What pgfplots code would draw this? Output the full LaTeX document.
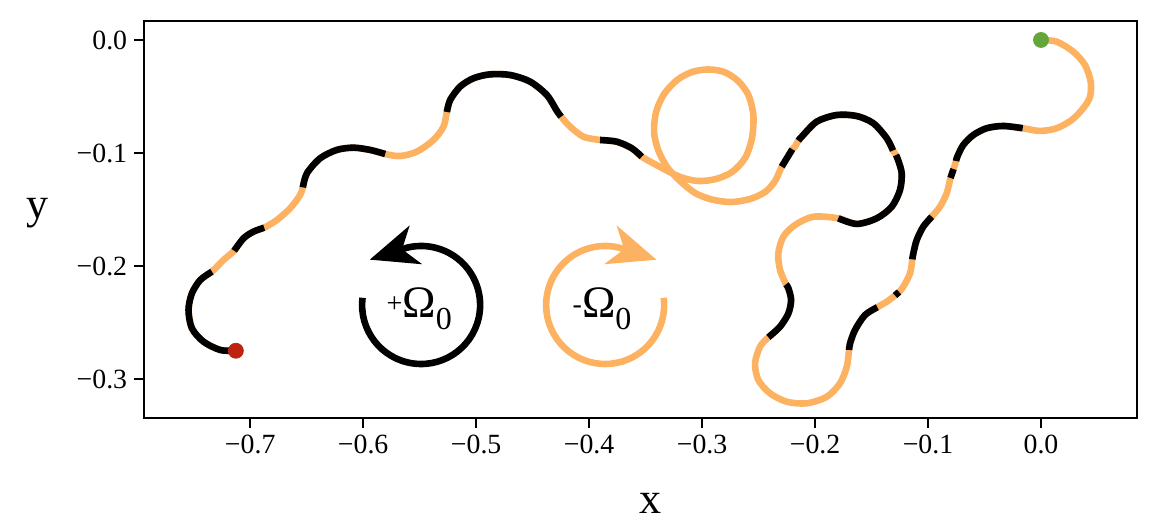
\documentclass[border=0pt]{standalone}
\usepackage{fontspec}
\setmainfont{Liberation Serif}
\usepackage{pgfplots}
\pgfplotsset{compat=1.18}
\usetikzlibrary{arrows.meta}
\definecolor{oc}{RGB}{253,178,98}
\definecolor{gdot}{RGB}{100,166,58}
\definecolor{rdot}{RGB}{190,35,15}
\pgfplotsset{
 oseg/.style={draw=oc, line width=3.3pt, smooth, mark=none, line cap=round, line join=round},
 bseg/.style={draw=black, line width=3.3pt, smooth, mark=none, line cap=butt, line join=round},
}
\begin{document}
\begin{tikzpicture}
\begin{axis}[
  at={(0,0)}, anchor=south west, scale only axis,
  width=496.5pt, height=198.5pt,
  xmin=-0.794, xmax=0.085, ymin=-0.3345, ymax=0.0168,
  xtick={-0.7,-0.6,-0.5,-0.4,-0.3,-0.2,-0.1,0},
  xticklabels={−0.7,−0.6,−0.5,−0.4,−0.3,−0.2,−0.1,0.0},
  ytick={-0.3,-0.2,-0.1,0},
  yticklabels={−0.3,−0.2,−0.1,0.0},
  tick align=outside, tick pos=left,
  major tick length=4.9pt,
  tick style={black, line width=1.1pt},
  axis line style={line width=1.1pt},
  ticklabel style={font=\fontsize{13.9}{15}\selectfont},
  xlabel={x}, ylabel={y},
  label style={font=\fontsize{22}{24}\selectfont},
  xlabel style={at={(axis description cs:0.51,-0.214)}, anchor=center},
  ylabel style={at={(axis description cs:-0.107,0.516)}, anchor=center, rotate=-90},
]
% full trajectory (orange), green start -> red end
\addplot[oseg] coordinates {
(0,0) (0.0139,-0.0015) (0.0286,-0.0104) (0.0389,-0.0221) (0.0440,-0.0369) (0.0434,-0.0502) (0.0374,-0.0604) (0.0272,-0.0708) (0.0139,-0.0781) (-0.0009,-0.0805) (-0.0162,-0.0781)
(-0.0334,-0.0761) (-0.0481,-0.0781) (-0.0599,-0.0841) (-0.0688,-0.0929) (-0.0741,-0.1033) (-0.0752,-0.1071)
(-0.0774,-0.1142) (-0.0801,-0.1221) (-0.0835,-0.1357) (-0.0894,-0.1475) (-0.0967,-0.1564)
(-0.1042,-0.1652) (-0.1100,-0.1770) (-0.1130,-0.1888) (-0.1139,-0.1941)
(-0.1159,-0.2065) (-0.1219,-0.2183) (-0.1257,-0.2230) (-0.1292,-0.2261) (-0.1365,-0.2316) (-0.1449,-0.2365)
(-0.1558,-0.2434) (-0.1646,-0.2566) (-0.1690,-0.2684) (-0.1699,-0.2743)
(-0.1719,-0.2891) (-0.1779,-0.3038) (-0.1896,-0.3157) (-0.2073,-0.3215) (-0.2250,-0.3201) (-0.2398,-0.3127) (-0.2502,-0.3009) (-0.2531,-0.2861) (-0.2487,-0.2714) (-0.2413,-0.2631)
(-0.2310,-0.2537) (-0.2236,-0.2419) (-0.2212,-0.2301) (-0.2236,-0.2197) (-0.2257,-0.2162)
(-0.2310,-0.2035) (-0.2325,-0.1888) (-0.2281,-0.1741) (-0.2177,-0.1637) (-0.2015,-0.1564) (-0.1794,-0.1578)
(-0.1631,-0.1628) (-0.1454,-0.1578) (-0.1321,-0.1475) (-0.1248,-0.1327) (-0.1233,-0.1180) (-0.1265,-0.1062) (-0.1283,-0.1018)
(-0.1310,-0.0978) (-0.1365,-0.0870) (-0.1484,-0.0737) (-0.1631,-0.0673) (-0.1808,-0.0664) (-0.1985,-0.0723) (-0.2118,-0.0856) (-0.2148,-0.0891)
(-0.2177,-0.0944) (-0.2201,-0.0967) (-0.2250,-0.1047) (-0.2295,-0.1121)
(-0.2354,-0.1248) (-0.2442,-0.1345) (-0.2575,-0.1407) (-0.2743,-0.1434) (-0.2912,-0.1412) (-0.3062,-0.1354) (-0.3195,-0.1248) (-0.3310,-0.1124) (-0.3389,-0.0973) (-0.3425,-0.0814) (-0.3407,-0.0637) (-0.3336,-0.0478) (-0.3221,-0.0354) (-0.3088,-0.0283) (-0.2947,-0.0261) (-0.2805,-0.0283) (-0.2681,-0.0363) (-0.2590,-0.0487) (-0.2546,-0.0664) (-0.2558,-0.0867) (-0.2619,-0.1044) (-0.2735,-0.1168) (-0.2876,-0.1230) (-0.3035,-0.1248) (-0.3195,-0.1212) (-0.3354,-0.1133) (-0.3534,-0.1033)
(-0.3622,-0.0958) (-0.3755,-0.0900) (-0.3903,-0.0885)
(-0.4050,-0.0856) (-0.4168,-0.0767) (-0.4248,-0.0679)
(-0.4290,-0.0620) (-0.4374,-0.0487) (-0.4522,-0.0369) (-0.4699,-0.0310) (-0.4876,-0.0304) (-0.5024,-0.0339) (-0.5142,-0.0413) (-0.5230,-0.0531) (-0.5259,-0.0637)
(-0.5289,-0.0767) (-0.5378,-0.0885) (-0.5525,-0.0988) (-0.5673,-0.1027) (-0.5805,-0.1009)
(-0.5938,-0.0973) (-0.6086,-0.0953) (-0.6233,-0.0973) (-0.6381,-0.1047) (-0.6498,-0.1180) (-0.6534,-0.1304)
(-0.6558,-0.1372) (-0.6646,-0.1489) (-0.6764,-0.1593) (-0.6876,-0.1661)
(-0.6971,-0.1696) (-0.7059,-0.1755) (-0.7142,-0.1865)
(-0.7236,-0.1947) (-0.7339,-0.2050)
(-0.7442,-0.2124) (-0.7516,-0.2242) (-0.7546,-0.2389) (-0.7516,-0.2551) (-0.7413,-0.2670) (-0.7265,-0.2743) (-0.7127,-0.2750)};
% black (+Omega_0) segments
\addplot[bseg] coordinates {(-0.0162,-0.0781) (-0.0334,-0.0761) (-0.0481,-0.0781) (-0.0599,-0.0841) (-0.0688,-0.0929) (-0.0741,-0.1033) (-0.0752,-0.1071)};
\addplot[bseg] coordinates {(-0.0774,-0.1142) (-0.0801,-0.1221)};
\addplot[bseg] coordinates {(-0.0967,-0.1564) (-0.1042,-0.1652) (-0.1100,-0.1770) (-0.1130,-0.1888) (-0.1139,-0.1941)};
\addplot[bseg] coordinates {(-0.1257,-0.2230) (-0.1292,-0.2261)};
\addplot[bseg] coordinates {(-0.1449,-0.2365) (-0.1558,-0.2434) (-0.1646,-0.2566) (-0.1690,-0.2684) (-0.1699,-0.2743)};
\addplot[bseg] coordinates {(-0.2413,-0.2631) (-0.2310,-0.2537) (-0.2236,-0.2419) (-0.2212,-0.2301) (-0.2236,-0.2197) (-0.2257,-0.2162)};
\addplot[bseg] coordinates {(-0.1794,-0.1578) (-0.1631,-0.1628) (-0.1454,-0.1578) (-0.1321,-0.1475) (-0.1248,-0.1327) (-0.1233,-0.1180) (-0.1265,-0.1062) (-0.1283,-0.1018)};
\addplot[bseg] coordinates {(-0.1310,-0.0978) (-0.1365,-0.0870) (-0.1484,-0.0737) (-0.1631,-0.0673) (-0.1808,-0.0664) (-0.1985,-0.0723) (-0.2118,-0.0856) (-0.2148,-0.0891)};
\addplot[bseg] coordinates {(-0.2201,-0.0967) (-0.2250,-0.1047) (-0.2295,-0.1121)};
\addplot[bseg] coordinates {(-0.3534,-0.1033) (-0.3622,-0.0958) (-0.3755,-0.0900) (-0.3903,-0.0885)};
\addplot[bseg] coordinates {(-0.4248,-0.0679) (-0.4290,-0.0620) (-0.4374,-0.0487) (-0.4522,-0.0369) (-0.4699,-0.0310) (-0.4876,-0.0304) (-0.5024,-0.0339) (-0.5142,-0.0413) (-0.5230,-0.0531) (-0.5259,-0.0637)};
\addplot[bseg] coordinates {(-0.5805,-0.1009) (-0.5938,-0.0973) (-0.6086,-0.0953) (-0.6233,-0.0973) (-0.6381,-0.1047) (-0.6498,-0.1180) (-0.6534,-0.1304)};
\addplot[bseg] coordinates {(-0.6876,-0.1661) (-0.6971,-0.1696) (-0.7059,-0.1755) (-0.7142,-0.1865)};
\addplot[bseg] coordinates {(-0.7339,-0.2050) (-0.7442,-0.2124) (-0.7516,-0.2242) (-0.7546,-0.2389) (-0.7516,-0.2551) (-0.7413,-0.2670) (-0.7265,-0.2743) (-0.7127,-0.2750)};
% start and end points
\addplot[only marks, mark=*, mark size=3.75pt, color=gdot] coordinates {(0,0)};
\addplot[only marks, mark=*, mark size=3.75pt, color=rdot] coordinates {(-0.7127,-0.2750)};
% rotation icons
\draw[black, line width=3.3pt, -{Stealth[length=24pt,width=20pt,inset=7pt]}]
  (axis cs:-0.5487,-0.2345) ++(173:29.5pt) arc[start angle=173, end angle=464, radius=29.5pt] -- ++(197.8:19.5pt);
\draw[oc, line width=3.3pt, -{Stealth[length=24pt,width=20pt,inset=7pt]}]
  (axis cs:-0.3858,-0.2345) ++(7:29.5pt) arc[start angle=7, end angle=-284, radius=29.5pt] -- ++(-17.9:19.5pt);
\node at (axis cs:-0.5504,-0.2381) {\fontsize{22.5}{24}\selectfont\raisebox{2.8pt}{\fontsize{14}{14}\selectfont +}Ω\raisebox{-5.8pt}{\fontsize{16}{16}\selectfont 0}};
\node at (axis cs:-0.3885,-0.2381) {\fontsize{22.5}{24}\selectfont\raisebox{2.3pt}{\fontsize{14}{14}\selectfont -}Ω\raisebox{-5.8pt}{\fontsize{16}{16}\selectfont 0}};
\end{axis}
\pgfresetboundingbox
\useasboundingbox (-72pt,-55.5pt) rectangle (507.5pt,209pt);
\end{tikzpicture}
\end{document}
